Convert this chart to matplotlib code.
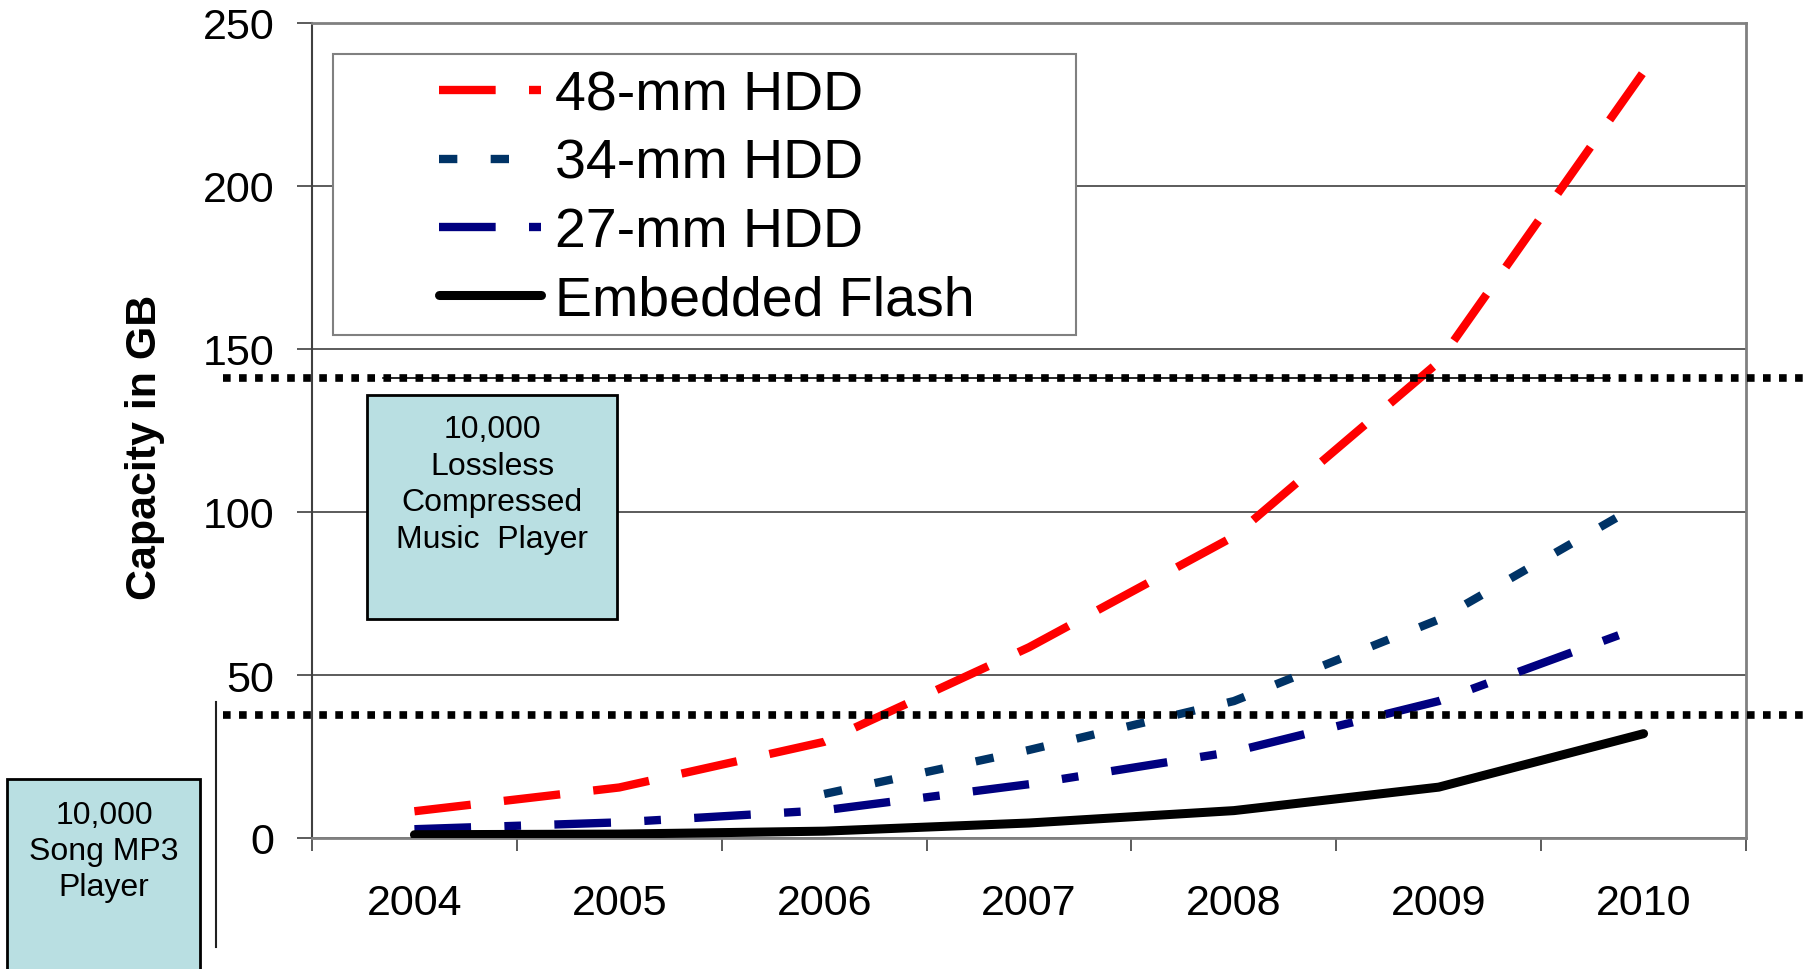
import numpy as np
import matplotlib
matplotlib.use("Agg")
import matplotlib.pyplot as plt
from matplotlib import transforms
from matplotlib.patches import Rectangle

plt.rcParams['font.family'] = ['Liberation Sans', 'DejaVu Sans']

years = ["2004", "2005", "2006", "2007", "2008", "2009", "2010"]
hdd_48 = [8.2, 15.5, 29.5, 58.5, 92.5, 146, 235]
hdd_34 = [np.nan, np.nan, 13.5, 27, 42, 67, 103]
hdd_27 = [2.7, 4.8, 8.5, 16.5, 26.5, 42, 65]
flash = [1.0, 1.2, 2.1, 4.6, 8.4, 15.6, 32]
labels = ["48-mm HDD", "34-mm HDD", "27-mm HDD", "Embedded Flash"]

lossless_level = 141
mp3_level = 37.8
lossless_text = "10,000\nLossless\nCompressed\nMusic  Player"
mp3_text = "10,000\nSong MP3\nPlayer"

W, H = 1806, 970
fig = plt.figure(figsize=(W / 100, H / 100), dpi=100)
ax = fig.add_axes([312 / W, 1 - 839 / H, (1746 - 312) / W, (839 - 24) / H])

x = np.arange(len(years))
lw = 6
l48, = ax.plot(x, hdd_48, color="#FF0000", lw=lw, linestyle=(0, (6.8, 4.0)),
               dash_capstyle="butt", zorder=4)
l34, = ax.plot(x, hdd_34, color="#003366", lw=lw, linestyle=(0, (2.2, 4.0)),
               dash_capstyle="butt", zorder=4)
l27, = ax.plot(x, hdd_27, color="#000080", lw=lw, linestyle=(0, (6.8, 4.0, 2.0, 4.0)),
               dash_capstyle="butt", zorder=4)
lfl, = ax.plot(x, flash, color="black", lw=6.5, solid_capstyle="round", zorder=4)

ax.set_xlim(-0.5, len(years) - 0.5)
ax.set_ylim(0, 250)
ax.set_yticks(np.arange(0, 251, 50))
ax.set_xticks(x)
ax.set_xticklabels(years)
ax.set_xticks(np.arange(-0.5, len(years), 1), minor=True)
ax.tick_params(axis="x", which="major", length=0, pad=32.5, labelsize=31)
ax.tick_params(axis="x", which="minor", length=9, width=1.2, color="#404040", direction="out")
ax.tick_params(axis="y", length=11, width=1.2, color="#404040", pad=16, labelsize=31)
ax.yaxis.grid(True, color="#404040", lw=1.2)
ax.set_axisbelow(True)
for side in ["top", "right", "bottom"]:
    ax.spines[side].set_color("#808080")
    ax.spines[side].set_linewidth(2)
ax.spines["left"].set_color("#404040")
ax.spines["left"].set_linewidth(1.5)

fig.text(145 / W, 1 - 447 / H, "Capacity in GB", rotation=90, ha="center", va="center",
         fontsize=31, fontweight="bold")

# threshold lines across the figure
tr = transforms.blended_transform_factory(fig.transFigure, ax.transData)
ax.plot([383 / W, 1610 / W], [lossless_level, lossless_level], color="black", lw=1.2,
        transform=tr, clip_on=False, zorder=5)
for lev in [lossless_level, mp3_level]:
    ax.plot([223 / W, 1.0], [lev, lev], color="black", lw=5.5, linestyle=(0, (1, 1.1)),
            dash_capstyle="butt", transform=tr, clip_on=False, zorder=6)
fig.add_artist(plt.Line2D([216 / W, 216 / W], [1 - 703 / H, 1 - 948 / H], color="#202020", lw=1.5))

# callout boxes
box_color = "#B9DFE2"
fig.add_artist(Rectangle((367 / W, 1 - 620 / H), (617 - 367) / W, (620 - 396) / H,
                         facecolor=box_color, edgecolor="black", lw=2, zorder=7))
fig.text(492 / W, 1 - 485 / H, lossless_text, ha="center", va="center", fontsize=23,
         linespacing=1.28, zorder=8)
fig.add_artist(Rectangle((7 / W, -0.1), (200 - 7) / W, 0.1 + 1 - 780 / H,
                         facecolor=box_color, edgecolor="black", lw=2, zorder=7))
fig.text(104 / W, 1 - 852 / H, mp3_text, ha="center", va="center", fontsize=23,
         linespacing=1.28, zorder=8)

# legend with its own frame
fig.add_artist(Rectangle((333 / W, 1 - 336 / H), (1076 - 333) / W, (336 - 55) / H,
                         facecolor="white", edgecolor="#808080", lw=1.5, zorder=3))
leg = fig.legend([l48, l34, l27, lfl], labels, loc="center left",
                 bbox_to_anchor=(439 / W, 1 - 199 / H), frameon=False, fontsize=40,
                 borderpad=0, borderaxespad=0, handlelength=1.84, handletextpad=0.25,
                 labelspacing=0.29)
leg.set_zorder(9)

fig.savefig("out.png", dpi=100)
